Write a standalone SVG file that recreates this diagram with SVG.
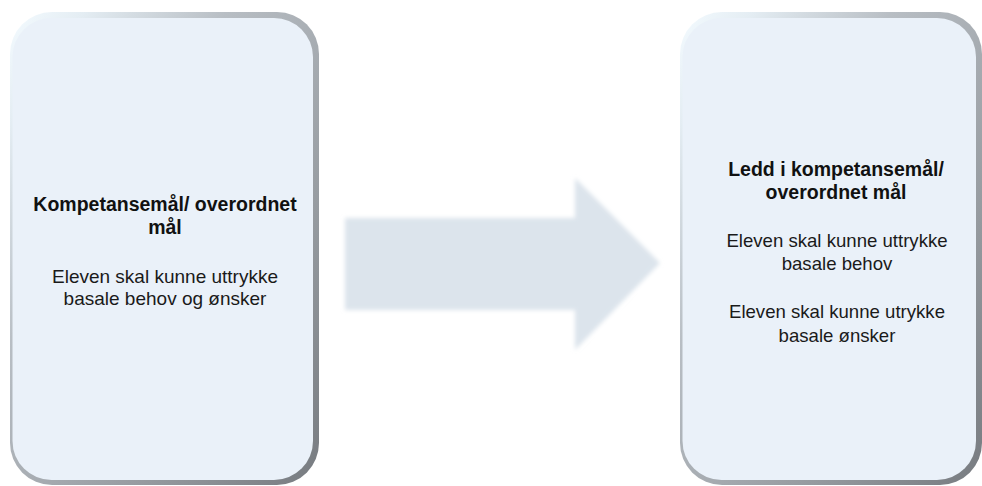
<svg xmlns="http://www.w3.org/2000/svg" width="982" height="486" viewBox="0 0 982 486">
  <defs>
    <linearGradient id="bevel" x1="0" y1="0" x2="1" y2="1">
      <stop offset="0" stop-color="#f4fbff"/>
      <stop offset="0.12" stop-color="#e4edf3"/>
      <stop offset="0.35" stop-color="#b8bec4"/>
      <stop offset="0.7" stop-color="#979ca1"/>
      <stop offset="1" stop-color="#777b80"/>
    </linearGradient>
    <filter id="blur" x="-10%" y="-10%" width="120%" height="120%">
      <feGaussianBlur stdDeviation="2"/>
    </filter>
    <style>
      .outer { fill: url(#bevel); }
      .inner { fill: #eaf1f9; }
      .title { font-family: "Liberation Sans", Arial, sans-serif; font-weight: bold; font-size: 19.5px; fill: #111; text-anchor: middle; }
      .body { font-family: "Liberation Sans", Arial, sans-serif; font-size: 19px; fill: #1a1a1a; text-anchor: middle; }
      .body-r { font-family: "Liberation Sans", Arial, sans-serif; font-size: 18.6px; fill: #1a1a1a; text-anchor: middle; }
    </style>
  </defs>
  <rect width="982" height="486" fill="#ffffff"/>

  <g id="connectors">
    <path d="M345,218 L575,218 L575,178 L660,263 L575,350 L575,310 L345,310 Z" fill="#dce4ec" filter="url(#blur)"/>
  </g>

  <g id="node-left">
    <rect class="outer" x="10" y="12" width="309" height="473" rx="42"/>
    <rect class="inner" x="12.5" y="18" width="300.5" height="462" rx="39"/>
    <text class="title" x="165" y="211">Kompetansemål/ overordnet</text>
    <text class="title" x="165" y="234">mål</text>
    <text class="body" x="165" y="283">Eleven skal kunne uttrykke</text>
    <text class="body" x="165" y="305">basale behov og ønsker</text>
  </g>

  <g id="node-right">
    <rect class="outer" x="680" y="12" width="302" height="473" rx="42"/>
    <rect class="inner" x="682.5" y="18" width="293.5" height="462" rx="39"/>
    <text class="title" x="836" y="176">Ledd i kompetansemål/</text>
    <text class="title" x="836" y="199">overordnet mål</text>
    <text class="body-r" x="837" y="247">Eleven skal kunne uttrykke</text>
    <text class="body-r" x="837" y="270">basale behov</text>
    <text class="body-r" x="837" y="318">Eleven skal kunne utrykke</text>
    <text class="body-r" x="837" y="342">basale ønsker</text>
  </g>
</svg>
